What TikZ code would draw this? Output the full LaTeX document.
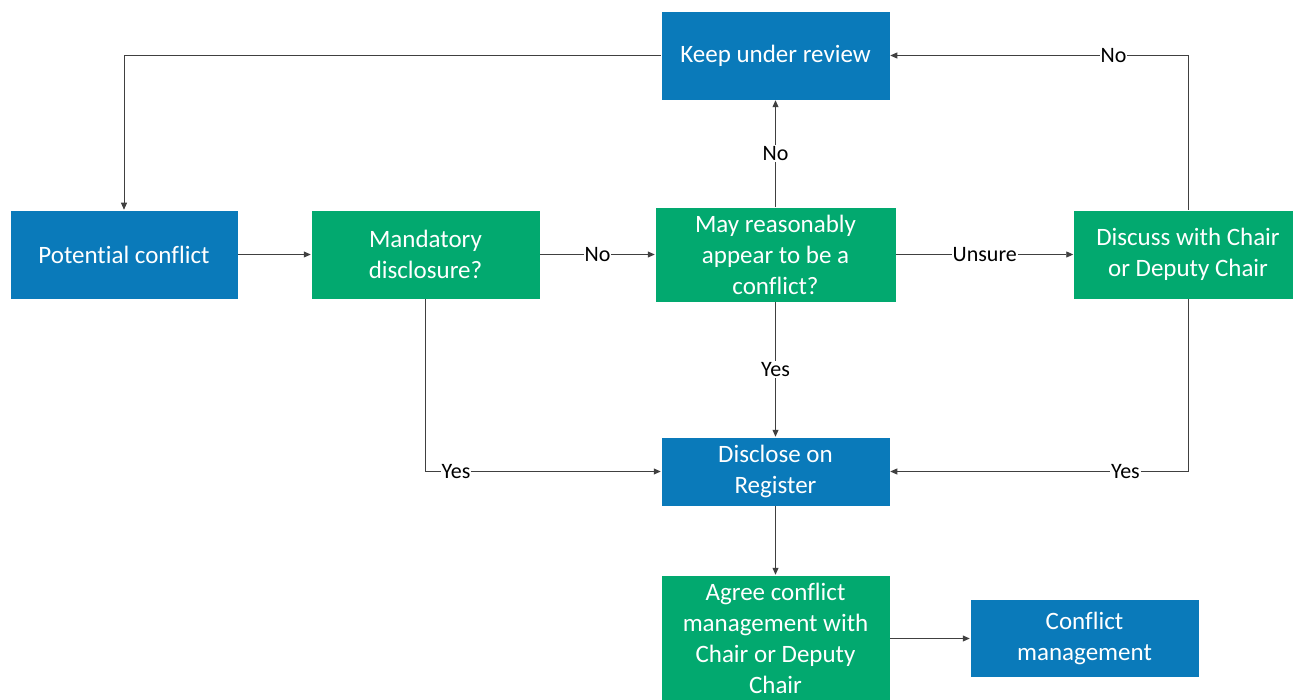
\documentclass[tikz,border=0pt]{standalone}
\usepackage{fontspec}
\setmainfont{Carlito}[Ligatures={NoCommon}]
\usetikzlibrary{arrows.meta}
\definecolor{bxblue}{HTML}{0A7ABA}
\definecolor{bxgreen}{HTML}{02A96F}
\definecolor{ln}{HTML}{404040}
\begin{document}
\begin{tikzpicture}[x=1pt,y=-1pt,
  box/.style={draw=white,line width=0.5pt,text=white,align=center,inner sep=0pt,font=\fontsize{25}{31}\selectfont},
  bluebox/.style={box,fill=bxblue},
  greenbox/.style={box,fill=bxgreen},
  conn/.style={draw=ln,line width=0.8pt,-{Triangle[length=7pt,width=6pt]}},
  lab/.style={fill=white,inner sep=1pt,text=black,font=\fontsize{22}{26}\selectfont}]
\useasboundingbox (0,0) rectangle (1293,700);
\node[bluebox,minimum width=229,minimum height=89] (keep) at (775.5,55.5) {Keep under review};
\node[bluebox,minimum width=228,minimum height=89] (pot) at (124,254.5) {Potential conflict};
\node[greenbox,minimum width=229,minimum height=89] (mand) at (425.5,254.5) {Mandatory\\disclosure?};
\node[greenbox,minimum width=241,minimum height=95] (may) at (775.5,254.5) {May reasonably\\appear to be a\\conflict?};
\node[greenbox,minimum width=229,minimum height=89] (disc) at (1188,254.5) {Discuss with Chair\\or Deputy Chair};
\node[bluebox,minimum width=229,minimum height=69] (reg) at (775.5,471.5) {Disclose on\\Register};
\node[greenbox,minimum width=229,minimum height=127] (agree) at (775.5,638.5) {Agree conflict\\management with\\Chair or Deputy\\Chair};
\node[bluebox,minimum width=229,minimum height=78] (cm) at (1084.5,638.5) {Conflict\\management};
\coordinate (c1) at (124,55.5);
\coordinate (c2) at (1188,55.5);
\coordinate (c3) at (425.5,471.5);
\coordinate (c4) at (1188,471.5);
\draw[conn] (keep.west) -- (c1) -- (pot.north);
\draw[conn] (pot.east) -- (mand.west);
\draw[conn] (mand.east) -- node[lab,pos=0.5]{No} (may.west);
\draw[conn] (may.north) -- node[lab,pos=0.5]{No} (keep.south);
\draw[conn] (may.east) -- node[lab,pos=0.5]{Unsure} (disc.west);
\draw[conn] (disc.north) -- (c2) -- node[lab,pos=0.25]{No} (keep.east);
\draw[conn] (may.south) -- node[lab,pos=0.5]{Yes} (reg.north);
\draw[conn] (mand.south) -- (c3) -- node[lab,pos=0.13]{Yes} (reg.west);
\draw[conn] (disc.south) -- (c4) -- node[lab,pos=0.21]{Yes} (reg.east);
\draw[conn] (reg.south) -- (agree.north);
\draw[conn] (agree.east) -- (cm.west);
\end{tikzpicture}
\end{document}
